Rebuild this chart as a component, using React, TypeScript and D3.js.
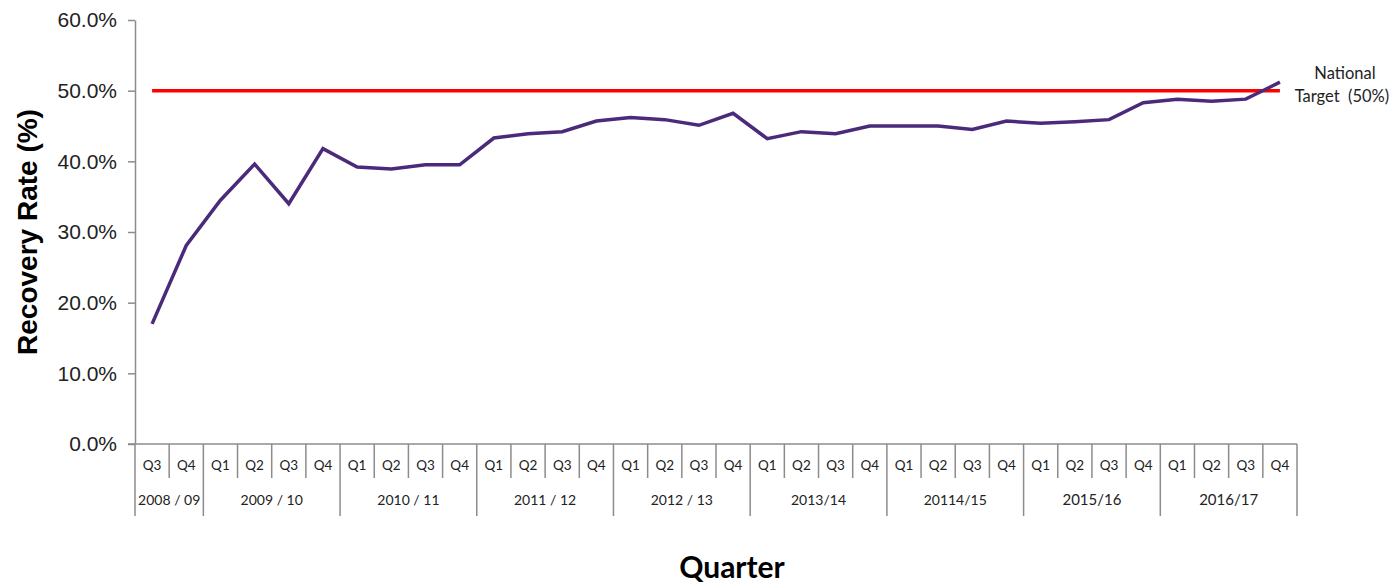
import React, { useEffect, useRef } from 'react';
import * as d3 from 'd3';

// financial years along the bottom, with the quarters each one covers
const yearLabels = ['2008 / 09', '2009 / 10', '2010 / 11', '2011 / 12', '2012 / 13', '2013/14', '20114/15', '2015/16', '2016/17'];
const quartersPerYear = [2, 4, 4, 4, 4, 4, 4, 4, 4];
const quarterLabels = [
    'Q3', 'Q4',
    'Q1', 'Q2', 'Q3', 'Q4',
    'Q1', 'Q2', 'Q3', 'Q4',
    'Q1', 'Q2', 'Q3', 'Q4',
    'Q1', 'Q2', 'Q3', 'Q4',
    'Q1', 'Q2', 'Q3', 'Q4',
    'Q1', 'Q2', 'Q3', 'Q4',
    'Q1', 'Q2', 'Q3', 'Q4',
    'Q1', 'Q2', 'Q3', 'Q4',
];

// recovery rate (%) per quarter
const recoveryRate = [
    17.0, 28.1,
    34.5, 39.6, 34.0, 41.8,
    39.2, 38.9, 39.5, 39.5,
    43.3, 43.9, 44.2, 45.7,
    46.2, 45.9, 45.1, 46.8,
    43.2, 44.2, 43.9, 45.0,
    45.0, 45.0, 44.5, 45.7,
    45.4, 45.6, 45.9, 48.3,
    48.8, 48.5, 48.8, 51.2,
];

const nationalTarget = 50;
const yTicks = [0, 10, 20, 30, 40, 50, 60];

const App = () => {
    const ref = useRef<SVGSVGElement>(null);

    useEffect(() => {
        const svg = d3.select(ref.current);
        svg.selectAll('*').remove();

        const axisColor = '#8c8c8c';
        const labelFont = 'Lato, "Open Sans", sans-serif';
        const tickFont = '"Liberation Sans", Arial, sans-serif';

        const idx = quarterLabels.map((_, i) => i);

        // x: one band per quarter
        const x = d3.scaleBand<number>()
            .domain(idx)
            .range([135, 1297])
            .padding(0);
        const cx = (i: number) => (x(i) as number) + x.bandwidth() / 2;

        // y: percent
        const y = d3.scaleLinear()
            .domain([0, 60])
            .range([444, 20]);

        // y axis
        const yAxis = svg.append('g')
            .attr('transform', 'translate(135,0)')
            .call(d3.axisLeft(y).tickValues(yTicks).tickSize(7).tickSizeOuter(0).tickPadding(11)
                .tickFormat((d) => `${(d as number).toFixed(1)}%`));
        yAxis.select('.domain').attr('stroke', axisColor).attr('stroke-width', 1.5);
        yAxis.selectAll('.tick line').attr('stroke', axisColor).attr('stroke-width', 1.5);
        yAxis.selectAll('.tick text')
            .attr('fill', '#222')
            .style('font-family', tickFont)
            .style('font-size', '21px');

        // x axis baseline
        svg.append('line')
            .attr('x1', 128).attr('x2', 1297)
            .attr('y1', y(0)).attr('y2', y(0))
            .attr('stroke', axisColor).attr('stroke-width', 1.5);

        // quarter dividers + year dividers
        let start = 0;
        const yearStarts: number[] = [];
        quartersPerYear.forEach((n) => { yearStarts.push(start); start += n; });

        const g = svg.append('g');
        for (let i = 0; i <= quarterLabels.length; i++) {
            const xp = i < quarterLabels.length ? (x(i) as number) : x.range()[1];
            const isYear = yearStarts.includes(i) || i === quarterLabels.length;
            g.append('line')
                .attr('x1', xp).attr('x2', xp)
                .attr('y1', y(0)).attr('y2', isYear ? 516 : 478)
                .attr('stroke', axisColor).attr('stroke-width', 1.5);
        }

        // quarter labels
        g.selectAll('text.q')
            .data(quarterLabels)
            .enter().append('text')
            .attr('class', 'q')
            .attr('x', (d, i) => cx(i))
            .attr('y', 470)
            .attr('text-anchor', 'middle')
            .style('font-family', labelFont)
            .style('font-size', '13.5px')
            .attr('fill', '#222')
            .text((d) => d);

        // year labels
        g.selectAll('text.yr')
            .data(yearLabels)
            .enter().append('text')
            .attr('class', 'yr')
            .attr('x', (d, i) => {
                const s = yearStarts[i];
                const e = s + quartersPerYear[i] - 1;
                return ((x(s) as number) + (x(e) as number) + x.bandwidth()) / 2;
            })
            .attr('y', 505)
            .attr('text-anchor', 'middle')
            .style('font-family', labelFont)
            .style('font-size', (d, i) => (i >= 7 ? '15px' : '14px'))
            .attr('fill', '#222')
            .text((d) => d);

        // national target line
        svg.append('line')
            .attr('x1', cx(0)).attr('x2', cx(quarterLabels.length - 1))
            .attr('y1', y(nationalTarget)).attr('y2', y(nationalTarget))
            .attr('stroke', '#ff0000').attr('stroke-width', 3.5);

        // recovery rate line
        const line = d3.line<number>()
            .x((d, i) => cx(i))
            .y((d) => y(d));
        svg.append('path')
            .datum(recoveryRate)
            .attr('d', line)
            .attr('fill', 'none')
            .attr('stroke', '#4b2a7b')
            .attr('stroke-width', 3.5)
            .attr('stroke-linejoin', 'miter');

        // target label
        const tl = svg.append('text')
            .attr('text-anchor', 'middle')
            .style('font-family', labelFont)
            .style('font-size', '16.5px')
            .attr('fill', '#222');
        tl.append('tspan').attr('x', 1345).attr('y', 79).text('National');
        tl.append('tspan').attr('x', 1342).attr('y', 102).attr('xml:space', 'preserve').text('Target  (50%)');

        // axis titles
        svg.append('text')
            .attr('transform', `translate(37,${(y(0) + y(60)) / 2}) rotate(-90)`)
            .attr('text-anchor', 'middle')
            .style('font-family', tickFont)
            .style('font-weight', 'bold')
            .style('font-size', '28px')
            .attr('fill', '#000')
            .text('Recovery Rate (%)');

        svg.append('text')
            .attr('x', 732)
            .attr('y', 578)
            .attr('text-anchor', 'middle')
            .style('font-family', labelFont)
            .style('font-weight', 'bold')
            .style('font-size', '30px')
            .attr('fill', '#000')
            .text('Quarter');
    }, []);

    return (
        <svg ref={ref} width={1392} height={583}
            style={{ position: 'absolute', left: 0, top: 0, background: '#fff' }} />
    );
};

export default App;
